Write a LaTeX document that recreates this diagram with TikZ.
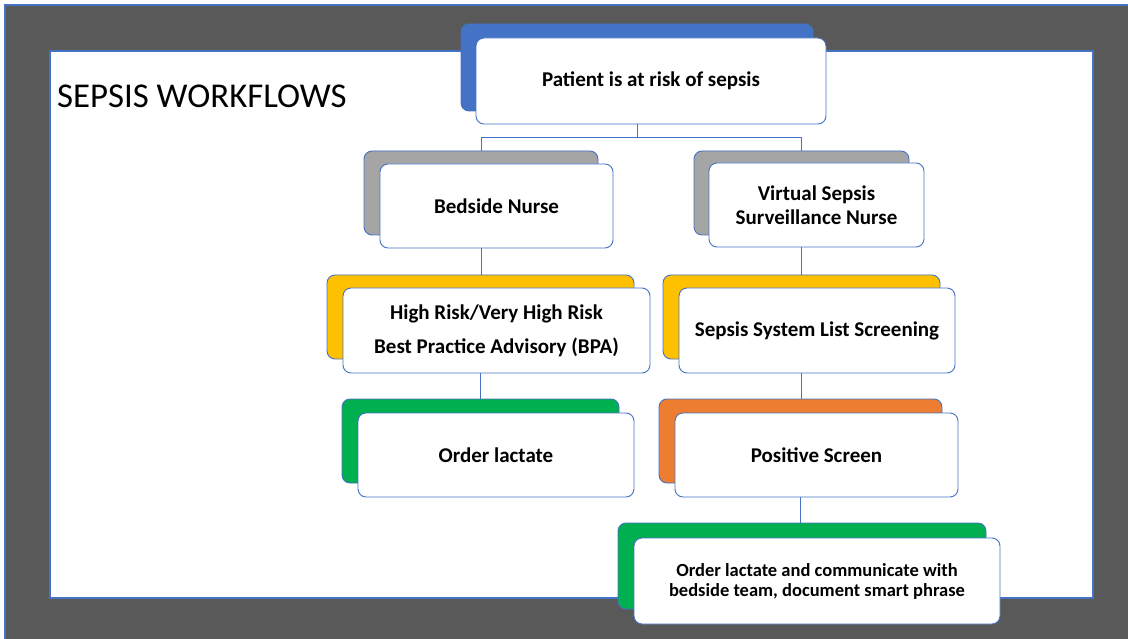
\documentclass[tikz,border=0pt]{standalone}
\usepackage{fontspec}
\setmainfont{Carlito}
\definecolor{bord}{HTML}{4472C4}
\definecolor{bgray}{HTML}{595959}
\definecolor{cblue}{HTML}{4472C4}
\definecolor{cgray}{HTML}{A5A5A5}
\definecolor{cgold}{HTML}{FFC000}
\definecolor{cgreen}{HTML}{00B050}
\definecolor{corange}{HTML}{ED7D31}
\tikzset{
  backbox/.style={draw=bord, line width=0.9pt, rounded corners=8pt, outer sep=0pt, inner sep=0pt},
  frontbox/.style={draw=bord, fill=white, line width=0.9pt, rounded corners=8pt, outer sep=0pt, inner sep=2pt, align=center, font=\fontsize{21}{24}\selectfont\bfseries},
  conn/.style={draw=bord, line width=0.9pt}
}
\begin{document}
\begin{tikzpicture}[x=1pt,y=-1pt]
\useasboundingbox (0,0) rectangle (1128,639);
\fill[white] (0,0) rectangle (1128,639);
\fill[bgray] (5,5) rectangle (1128,639);
\draw[bord, line width=1.2pt] (5,639) -- (5,5) -- (1128,5);
\draw[bord, line width=1.5pt, fill=white] (50,51) rectangle (1093,598);
\node[anchor=west, font=\fontsize{34.8}{40}\selectfont, inner sep=0pt] (title) at (57,96) {SEPSIS WORKFLOWS};
% back boxes
\node[backbox, fill=cblue, minimum width=352pt, minimum height=87pt] (topb) at (637,67.5) {};
\node[backbox, fill=cgray, minimum width=234pt, minimum height=84pt] (bedb) at (481,193) {};
\node[backbox, fill=cgray, minimum width=215pt, minimum height=84pt] (virb) at (801.5,193) {};
\node[backbox, fill=cgold, minimum width=307pt, minimum height=84pt] (hrb) at (480.5,317) {};
\node[backbox, fill=cgold, minimum width=277pt, minimum height=84pt] (slb) at (801.5,317) {};
\node[backbox, fill=cgreen, minimum width=277pt, minimum height=84pt] (olb) at (480.5,441) {};
\node[backbox, fill=corange, minimum width=283pt, minimum height=84pt] (psb) at (800.5,441) {};
\node[backbox, fill=cgreen, minimum width=368pt, minimum height=86pt] (finb) at (802,566) {};
% connectors
\coordinate (j) at (637,137);
\draw[conn] (topb.south) -- (topb.south |- j);
\draw[conn] (bedb.north) -- (bedb.north |- j) -- (virb.north |- j) -- (virb.north);
\draw[conn] (bedb.south) -- (bedb.south |- hrb.north);
\draw[conn] (hrb.south) -- (hrb.south |- olb.north);
\draw[conn] (virb.south) -- (virb.south |- slb.north);
\draw[conn] (slb.south) -- (slb.south |- psb.north);
\draw[conn] (psb.south) -- (psb.south |- finb.north);
% front boxes
\node[frontbox, minimum width=350pt, minimum height=86pt] (top) at (651,81) {Patient is at risk of sepsis};
\node[frontbox, minimum width=233pt, minimum height=84pt] (bed) at (496.5,206) {Bedside Nurse};
\node[frontbox, minimum width=215pt, minimum height=84pt] (vir) at (816.5,205) {Virtual Sepsis\\Surveillance Nurse};
\node[frontbox, minimum width=307pt, minimum height=85pt, font=\fontsize{21}{34}\selectfont\bfseries] (hr) at (496.5,330.5) {High Risk/Very High Risk\\Best Practice Advisory (BPA)};
\node[frontbox, minimum width=276pt, minimum height=85pt] (sl) at (817,330.5) {Sepsis System List Screening};
\node[frontbox, minimum width=276pt, minimum height=84pt] (ol) at (496,455) {Order lactate};
\node[frontbox, minimum width=283pt, minimum height=84pt] (ps) at (816.5,455) {Positive Screen};
\node[frontbox, minimum width=366pt, minimum height=86pt, font=\fontsize{18.5}{20}\selectfont\bfseries] (fin) at (817,581) {Order lactate and communicate with\\bedside team, document smart phrase};
\end{tikzpicture}
\end{document}
